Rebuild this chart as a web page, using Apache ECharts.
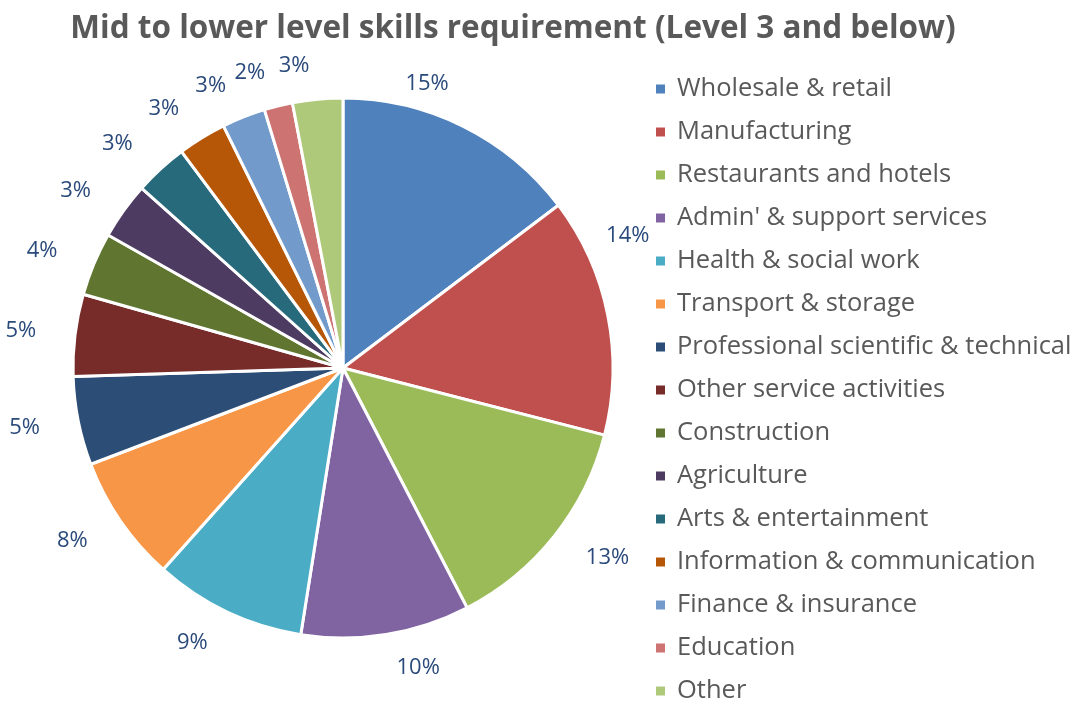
<!DOCTYPE html>
<html>
<head>
<meta charset="utf-8">
<script src="https://cdn.jsdelivr.net/npm/echarts@6/dist/echarts.min.js"></script>
<style>
html, body { margin: 0; padding: 0; background: #fff; }
#chart { width: 1078px; height: 701px; }
</style>
</head>
<body>
<div id="chart"></div>
<script>
// sectors, clockwise from 12 o'clock
var sectors = ['Wholesale & retail', 'Manufacturing', 'Restaurants and hotels',
    "Admin' & support services", 'Health & social work', 'Transport & storage',
    'Professional scientific & technical', 'Other service activities', 'Construction',
    'Agriculture', 'Arts & entertainment', 'Information & communication',
    'Finance & insurance', 'Education', 'Other'];
// share of requirement, %
var shares = [14.7, 14.3, 13.4, 10.1, 9.1, 7.6, 5.3, 4.9, 3.8, 3.4, 3.2, 2.9, 2.6, 1.7, 3.0];
var colors = ['#4F81BD', '#C0504D', '#9BBB59', '#8064A2', '#4BACC6', '#F79646', '#2C4D75',
    '#772C2A', '#5F7530', '#4D3B62', '#276A7C', '#B65708', '#729ACA', '#CD7371', '#AFC97A'];

var chart = echarts.init(document.getElementById('chart'));
var pieData = sectors.map(function (s, i) {
    var d = { name: s, value: shares[i], itemStyle: { color: colors[i] } };
    // excel nudged the first two labels towards the top
    if (i === 0) d.label = { offset: [-78, -12] };
    if (i === 1) d.label = { offset: [-40, -72] };
    return d;
});

chart.setOption({
    animation: false,
    title: {
        text: 'Mid to lower level skills requirement (Level 3 and below)',
        left: 508,
        textAlign: 'center',
        top: 8,
        textStyle: { fontFamily: 'Open Sans', fontWeight: 'bold', fontSize: 31.5, color: '#595959' }
    },
    legend: {
        orient: 'vertical',
        left: 654,
        top: 76,
        height: 690,
        padding: 0,
        icon: 'rect',
        itemWidth: 11,
        itemHeight: 11,
        itemGap: 17,
        data: sectors,
        textStyle: { fontFamily: 'Open Sans', fontSize: 25.5, color: '#595959', padding: [0, 0, 0, 6] }
    },
    series: [{
        type: 'pie',
        center: [343, 368],
        radius: 270,
        startAngle: 90,
        clockwise: true,
        avoidLabelOverlap: false,
        data: pieData,
        itemStyle: { borderColor: '#fff', borderWidth: 3 },
        label: {
            show: true,
            position: 'outside',
            formatter: function (p) { return Math.round(p.value) + '%'; },
            fontFamily: 'Open Sans',
            fontSize: 22,
            color: '#2A4A7B'
        },
        labelLine: { show: false, length: 34, length2: 0 }
    }]
});
</script>
</body>
</html>
